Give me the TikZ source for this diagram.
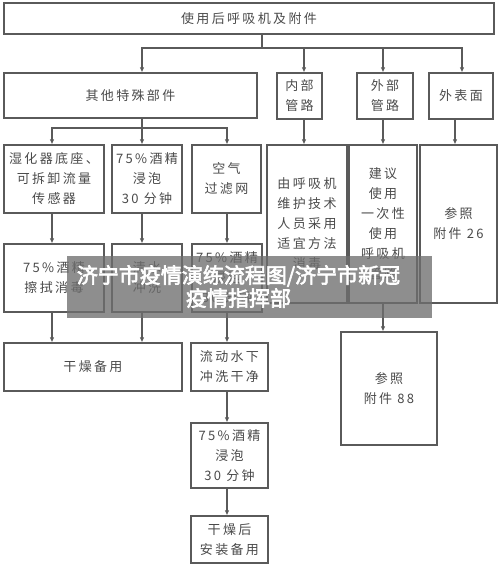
\documentclass[tikz,border=0pt]{standalone}
\usepackage{fontspec}
\setmainfont{Noto Sans CJK SC}[LetterSpace=18]
\newfontfamily\wmfont{Noto Sans CJK SC}[FakeBold=3]
\usetikzlibrary{arrows.meta}
\definecolor{edge}{HTML}{5A5A5A}
\definecolor{ink}{HTML}{4A4A4A}
\definecolor{band}{HTML}{6E6E6E}
\tikzset{
  box/.style={rectangle, draw=edge, line width=1.1pt, inner sep=0pt,
              align=center, text=ink, font=\fontsize{13}{20}\selectfont},
  arr/.style={-{Latex[length=5pt, width=4.5pt]}, line width=1.1pt, #1},
  arr/.default=edge,
  wmband/.style={fill=band, fill opacity=0.78, inner sep=0pt},
}

\begin{document}
\begin{tikzpicture}[x=1pt, y=-1pt]
  \useasboundingbox (0,0) rectangle (500,575);

  % columns of the connectors
  \coordinate (cA) at (52,0);
  \coordinate (cB) at (142,0);
  \coordinate (cC) at (227,0);
  \coordinate (cT) at (262,0);
  \coordinate (cD) at (304,0);
  \coordinate (cE) at (383,0);
  \coordinate (cF) at (462,0);
  \coordinate (cG) at (455,0);
  \coordinate (bus1) at (262,48);
  \coordinate (bus2) at (142,128);

  % first row
  \node[box, minimum width=490pt, minimum height=31pt] (top) at (249,18.5) {使用后呼吸机及附件};

  % second row
  \node[box, minimum width=253pt, minimum height=45pt] (other) at (130.5,95.5) {其他特殊部件};
  \node[box, minimum width=45pt, minimum height=46pt] (inner) at (299.5,96) {内部\\管路};
  \node[box, minimum width=56pt, minimum height=46pt] (outer) at (385,96) {外部\\管路};
  \node[box, minimum width=64pt, minimum height=46pt] (surf) at (461,96) {外表面};

  % third row
  \node[box, minimum width=100pt, minimum height=68pt] (humid) at (54,179) {湿化器底座、\\可拆卸流量\\传感器};
  \node[box, minimum width=70pt, minimum height=68pt] (soak1) at (147,179) {75\%酒精\\浸泡\\30 分钟};
  \node[box, minimum width=69pt, minimum height=68pt] (filter) at (226.5,179) {空气\\过滤网};
  \node[box, minimum width=80pt, minimum height=158pt] (innertxt) at (307,224) {由呼吸机\\维护技术\\人员采用\\适宜方法\\消毒};
  \node[box, minimum width=68pt, minimum height=158pt] (outertxt) at (383,224) {建议\\使用\\一次性\\使用\\呼吸机\\管路};
  \node[box, minimum width=77pt, minimum height=158pt] (surftxt) at (458.5,224) {参照\\附件 26};

  % fourth row
  \node[box, minimum width=100pt, minimum height=68pt] (wipe) at (54,278) {75\%酒精\\擦拭消毒};
  \node[box, minimum width=70pt, minimum height=68pt] (rinse) at (147,278) {清水\\冲洗};
  \node[box, minimum width=70pt, minimum height=68pt] (soak2) at (227,278) {75\%酒精\\浸泡\\30 分钟};

  % lower rows
  \node[box, minimum width=178pt, minimum height=48pt] (dry) at (93,367) {干燥备用};
  \node[box, minimum width=77pt, minimum height=48pt] (flush) at (229.5,367) {流动水下\\冲洗干净};
  \node[box, minimum width=96pt, minimum height=113pt] (ref88) at (389,388.5) {参照\\附件 88};
  \node[box, minimum width=77pt, minimum height=65pt] (soak3) at (229.5,455.5) {75\%酒精\\浸泡\\30 分钟};
  \node[box, minimum width=77pt, minimum height=47pt] (mount) at (229.5,539.5) {干燥后\\安装备用};

  % connectors
  \draw[line width=1.1pt, edge] (top.south -| cT) -- (bus1);
  \draw[arr] (bus1) -| (other.north -| cB);
  \draw[arr] (bus1) -| (inner.north -| cD);
  \draw[arr] (bus1) -| (outer.north -| cE);
  \draw[arr] (bus1) -| (surf.north -| cF);

  \draw[line width=1.1pt, edge] (other.south -| cB) -- (bus2);
  \draw[arr] (bus2) -| (humid.north -| cA);
  \draw[arr] (bus2) -- (soak1.north -| cB);
  \draw[arr] (bus2) -| (filter.north -| cC);

  \draw[arr] (inner.south -| cD) -- (innertxt.north -| cD);
  \draw[arr] (outer.south -| cE) -- (outertxt.north -| cE);
  \draw[arr] (surf.south -| cG) -- (surftxt.north -| cG);

  \draw[arr] (humid.south -| cA) -- (wipe.north -| cA);
  \draw[arr] (soak1.south -| cB) -- (rinse.north -| cB);
  \draw[arr] (filter.south -| cC) -- (soak2.north -| cC);

  \draw[arr] (wipe.south -| cA) -- (dry.north -| cA);
  \draw[arr] (rinse.south -| cB) -- (dry.north -| cB);
  \draw[arr] (soak2.south -| cC) -- (flush.north -| cC);
  \draw[arr] (outertxt.south -| cE) -- (ref88.north -| cE);
  \draw[arr] (flush.south -| cC) -- (soak3.north -| cC);
  \draw[arr] (soak3.south -| cC) -- (mount.north -| cC);

  % banner on top
  \node[wmband, minimum width=365pt, minimum height=62pt] (wm) at (249.5,287) {};
  \node[text=white, align=center, font=\wmfont\fontsize{21}{23}\selectfont] (wmtext) at (238.5,286.5)
    {济宁市疫情演练流程图/济宁市新冠\\疫情指挥部};
\end{tikzpicture}
\end{document}
